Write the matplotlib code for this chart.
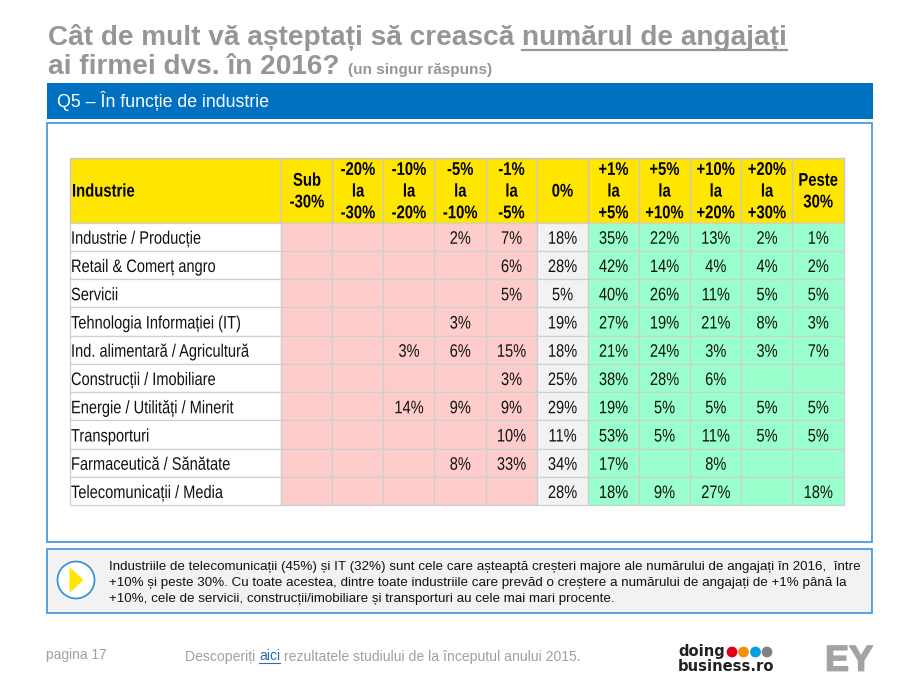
#!/usr/bin/env python3
import matplotlib
matplotlib.use('Agg')
import matplotlib.pyplot as plt
import matplotlib.patches as mpatches
import matplotlib.patheffects as pe
from matplotlib.transforms import Affine2D

SANS = 'Liberation Sans'

industries = ['Industrie / Producție', 'Retail & Comerț angro', 'Servicii',
              'Tehnologia Informației (IT)', 'Ind. alimentară / Agricultură',
              'Construcții / Imobiliare', 'Energie / Utilități / Minerit',
              'Transporturi', 'Farmaceutică / Sănătate', 'Telecomunicații / Media']
col_labels = ['Sub\n-30%', '-20%\nla\n-30%', '-10%\nla\n-20%', '-5%\nla\n-10%', '-1%\nla\n-5%', '0%',
              '+1%\nla\n+5%', '+5%\nla\n+10%', '+10%\nla\n+20%', '+20%\nla\n+30%', 'Peste\n30%']
values = [
    [None, None, None, 2, 7, 18, 35, 22, 13, 2, 1],
    [None, None, None, None, 6, 28, 42, 14, 4, 4, 2],
    [None, None, None, None, 5, 5, 40, 26, 11, 5, 5],
    [None, None, None, 3, None, 19, 27, 19, 21, 8, 3],
    [None, None, 3, 6, 15, 18, 21, 24, 3, 3, 7],
    [None, None, None, None, 3, 25, 38, 28, 6, None, None],
    [None, None, 14, 9, 9, 29, 19, 5, 5, 5, 5],
    [None, None, None, None, 10, 11, 53, 5, 11, 5, 5],
    [None, None, None, 8, 33, 34, 17, None, 8, None, None],
    [None, None, None, None, None, 28, 18, 9, 27, None, 18],
]
note_lines = ['Industriile de telecomunicații (45%) și IT (32%) sunt cele care așteaptă creșteri majore ale numărului de angajați în 2016,  între',
              '+10% și peste 30%. Cu toate acestea, dintre toate industriile care prevăd o creștere a numărului de angajați de +1% până la',
              '+10%, cele de servicii, construcții/imobiliare și transporturi au cele mai mari procente.']

BLUE = '#0070C0'
EDGE = '#3D94DC'
GREY = '#969696'
FOOT = '#A0A0A0'
fig = plt.figure(figsize=(9.2, 6.9), dpi=100)
ax = fig.add_axes([0, 0, 1, 1])
ax.set_xlim(0, 920)
ax.set_ylim(690, 0)
ax.axis('off')


class Squeeze(pe.AbstractPathEffect):
    # no narrow font here, so the table text is squeezed sideways around its anchor
    def __init__(self, cx, sx=0.81):
        super().__init__()
        self.cx = cx
        self.sx = sx

    def draw_path(self, renderer, gc, tpath, affine, rgbFace=None):
        squeeze = Affine2D().translate(-self.cx, 0).scale(self.sx, 1).translate(self.cx, 0)
        renderer.draw_path(gc, tpath, affine + squeeze, rgbFace)


def box(x0, y0, x1, y1, fc, ec='none', lw=0.0, z=1):
    ax.add_patch(mpatches.Rectangle((x0, y0), x1 - x0, y1 - y0, fc=fc, ec=ec, lw=lw, zorder=z))


def width(t):
    return t.get_window_extent(fig.canvas.get_renderer()).width


def narrow(x, y, s, **kw):
    t = ax.text(x, y, s, family=SANS, zorder=4, **kw)
    t.set_path_effects([Squeeze(x)])
    return t


# title
TS = 20.2
t1 = ax.text(48, 45, 'Cât de mult vă așteptați să crească ', family=SANS, weight='bold', size=TS,
             color=GREY, va='baseline')
x = 48 + width(t1)
t2 = ax.text(x, 45, 'numărul de angajați', family=SANS, weight='bold', size=TS, color=GREY, va='baseline')
ax.plot([x, x + width(t2)], [49.5, 49.5], color=GREY, lw=1.6)
t3 = ax.text(48, 74, 'ai firmei dvs. în 2016?', family=SANS, weight='bold', size=TS, color=GREY, va='baseline')
ax.text(348, 74, '(un singur răspuns)', family=SANS, weight='bold', size=11, color=GREY, va='baseline')

# blue band and frames
box(47.5, 82.5, 873, 119, BLUE)
ax.text(57, 107, 'Q5 – În funcție de industrie', family=SANS, size=12.75, color='white', va='baseline')
box(47.5, 122.5, 872.5, 541.5, 'white', EDGE, 1.2)
box(47.5, 548.5, 872.5, 613, '#F2F2F2', EDGE, 1.2)

# table
edges = [70, 281.5, 332.5, 383.5, 434.5, 486, 537, 588, 639, 690, 741.5, 792.5, 844]
head_top, head_bot = 158, 222.5
head_mid = (head_top + head_bot) / 2 + 1.8
row_h = (505 - head_bot) / len(industries)
line = '#CDD0D0'
box(edges[0], head_top, edges[-1], head_bot, '#FFE600', '#C8C8C8', 1.0, 2)
for xe in edges[1:-1]:
    ax.plot([xe, xe], [head_top, head_bot], color='#C8C8C8', lw=1.0, zorder=3)
narrow(edges[0] + 2, head_mid, 'Industrie', weight='bold', size=13.2, va='center')
for i, lab in enumerate(col_labels):
    narrow((edges[i + 1] + edges[i + 2]) / 2, head_mid, lab, weight='bold', size=13.2,
           ha='center', va='center', linespacing=1.36)
for r, name in enumerate(industries):
    y0 = head_bot + r * row_h
    y1 = y0 + row_h
    base = y1 - 7
    box(edges[0], y0, edges[1], y1, 'white', line, 0.9, 2)
    narrow(edges[0] + 1, base, name, size=13, va='baseline', color='#111111')
    for c, v in enumerate(values[r]):
        fc = '#FFCCCC' if c < 5 else ('#F2F2F2' if c == 5 else '#99FFCC')
        box(edges[c + 1], y0, edges[c + 2], y1, fc, line, 0.9, 2)
        if v is not None:
            narrow((edges[c + 1] + edges[c + 2]) / 2, base, '%d%%' % v, size=13,
                   ha='center', va='baseline', color='#111111')

# note box
ax.add_patch(mpatches.Circle((76, 580), 18.5, fc='white', ec='#2E8BD8', lw=1.2, zorder=3))
ax.add_patch(mpatches.Polygon([(69.5, 567), (69.5, 593), (83.5, 580)], fc='#FFE600', ec='none', zorder=4))
for i, txt in enumerate(note_lines):
    ax.text(109, 570 + i * 16, txt, family=SANS, size=9.67, va='baseline', color='#111111')

# footer
ax.text(46, 659, 'pagina 17', family=SANS, size=9.9, color=FOOT, va='baseline')
f1 = ax.text(185, 660.5, 'Descoperiți ', family=SANS, size=10.05, color=FOOT, va='baseline')
x = 185 + width(f1)
f2 = ax.text(x, 660.5, 'aici', family=SANS, size=10.05, color='#2E6DA4', va='baseline')
ax.plot([x, x + width(f2)], [662.7, 662.7], color='#2E6DA4', lw=0.8)
ax.text(x + width(f2), 660.5, ' rezultatele studiului de la începutul anului 2015.', family=SANS, size=10.05,
        color=FOOT, va='baseline')

# logos
ax.text(678, 671, 'doing\nbusiness.ro', family='DejaVu Sans', weight='bold', size=10.6, color='#222222',
        va='baseline', linespacing=1.0)
for cx, col in zip([732, 743.5, 755.5, 767], ['#E2001A', '#F39200', '#009FE3', '#7F8285']):
    ax.add_patch(mpatches.Circle((cx, 652), 5.4, fc=col, ec='none'))
ey = ax.text(825, 670.7, 'EY', family=SANS, weight='bold', size=26, color='#A3A3A3', va='baseline')
ey.set_path_effects([pe.withStroke(linewidth=1.0, foreground='#A3A3A3')])

fig.savefig('out.png', dpi=100)
